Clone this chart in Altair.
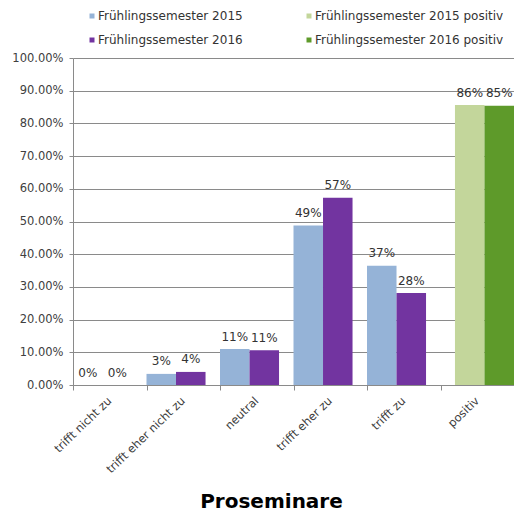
import altair as alt
import pandas as pd

categories = ["trifft nicht zu", "trifft eher nicht zu", "neutral", "trifft eher zu", "trifft zu", "positiv"]
values_2015 = [0.0, 0.034, 0.110, 0.488, 0.365]
values_2016 = [0.0, 0.040, 0.106, 0.573, 0.281]
positive_2015 = 0.856
positive_2016 = 0.854
series_names = ["Frühlingssemester 2015", "Frühlingssemester 2016",
                "Frühlingssemester 2015 positiv", "Frühlingssemester 2016 positiv"]
series_colors = ["#95B3D7", "#7234A0", "#C3D69B", "#5E9A2A"]
y_ticks = [0, 0.1, 0.2, 0.3, 0.4, 0.5, 0.6, 0.7, 0.8, 0.9, 1.0]

main_rows = []
for c, v15, v16 in zip(categories[:5], values_2015, values_2016):
    main_rows.append({"category": c, "year": "2015", "series": series_names[0], "value": v15})
    main_rows.append({"category": c, "year": "2016", "series": series_names[1], "value": v16})
pos_rows = [
    {"category": categories[5], "year": "2015", "series": series_names[2], "value": positive_2015},
    {"category": categories[5], "year": "2016", "series": series_names[3], "value": positive_2016},
]
df_main = pd.DataFrame(main_rows)
df_pos = pd.DataFrame(pos_rows)

FONT = "DejaVu Sans"

x_enc = alt.X(
    "category:N",
    scale=alt.Scale(domain=categories, paddingInner=0, paddingOuter=0),
    axis=alt.Axis(
        title="Proseminare", tickBand="extent", labelAngle=-44, labelAlign="right",
        labelBaseline="middle", labelFont=FONT, labelFontSize=11.5, labelColor="#404040",
        tickSize=5, labelPadding=9, tickColor="#8a8a8a", domainColor="#8a8a8a",
        titleFont=FONT, titleFontSize=20, titleFontWeight="bold", titleColor="#000000",
        titleX=198, titleY=122, titleAlign="center", titleBaseline="alphabetic", titleAngle=0,
    ),
)
y_enc = alt.Y(
    "value:Q",
    scale=alt.Scale(domain=[0, 1], nice=False),
    axis=alt.Axis(
        title=None, values=y_ticks, format=".2%", grid=True, gridColor="#8a8a8a",
        domainColor="#8a8a8a", tickColor="#8a8a8a", tickSize=4, labelPadding=6,
        labelFont=FONT, labelFontSize=11.5, labelColor="#404040",
    ),
)
color_enc = alt.Color(
    "series:N",
    scale=alt.Scale(domain=series_names, range=series_colors),
    legend=alt.Legend(
        title=None, orient="none", legendX=13, legendY=-48, columns=2, columnPadding=60,
        rowPadding=12, symbolType="square", symbolSize=25, symbolStrokeWidth=0,
        labelFont=FONT, labelFontSize=12, labelColor="#333333", labelOffset=0, padding=0,
        labelLimit=0,
    ),
)


def group(df, align):
    xo = alt.XOffset("year:N", scale=alt.Scale(domain=["2015", "2016"], paddingInner=0,
                                                paddingOuter=0.245, align=align))
    bars = alt.Chart(df).mark_bar().encode(x=x_enc, y=y_enc, xOffset=xo, color=color_enc)
    text = alt.Chart(df).mark_text(
        font=FONT, fontSize=12, color="#333333", baseline="alphabetic", dy=-8.5
    ).encode(x=x_enc, y=y_enc, xOffset=xo, text=alt.Text("value:Q", format=".0%"))
    return alt.layer(bars, text)


chart = alt.layer(group(df_main, 0), group(df_pos, 1)).resolve_scale(
    xOffset="independent"
).properties(
    width=441, height=327,
    autosize=alt.AutoSizeParams(type="none"),
    padding={"left": 73, "top": 58, "right": 0, "bottom": 127},
    background="white",
).configure_view(stroke=None)

chart.save("out.html", embed_options={"renderer": "svg", "actions": False})
